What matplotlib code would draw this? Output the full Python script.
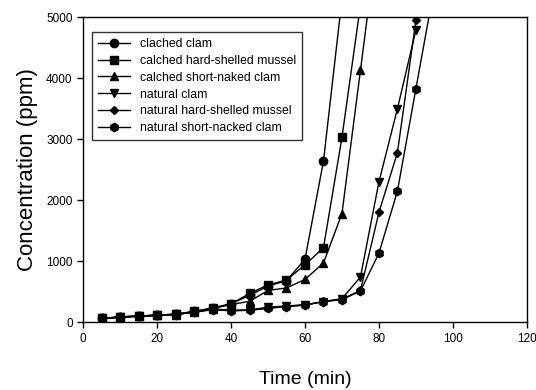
import matplotlib
matplotlib.use("Agg")
import matplotlib.pyplot as plt

plt.rcParams['font.family'] = ['Liberation Sans', 'DejaVu Sans']

# time (min) and concentration (ppm)
t_cal_clam = [5, 10, 15, 20, 25, 30, 35, 40, 45, 50, 55, 60, 65, 70]
cal_clam = [60, 85, 100, 115, 130, 175, 230, 300, 440, 590, 680, 1030, 2640, 5300]

t_cal_mussel = [5, 10, 15, 20, 25, 30, 35, 40, 45, 50, 55, 60, 65, 70, 75]
cal_mussel = [60, 85, 100, 115, 130, 175, 230, 300, 470, 610, 690, 940, 1220, 3030, 5200]

t_cal_short = [5, 10, 15, 20, 25, 30, 35, 40, 45, 50, 55, 60, 65, 70, 75, 80]
cal_short = [55, 80, 95, 110, 125, 165, 220, 290, 340, 520, 560, 700, 970, 1780, 4130, 6500]

t_nat_clam = [5, 10, 15, 20, 25, 30, 35, 40, 45, 50, 55, 60, 65, 70, 75, 80, 85, 90]
nat_clam = [60, 85, 100, 115, 130, 170, 215, 195, 200, 245, 265, 285, 335, 385, 740, 2300, 3500, 4790]

t_nat_mussel = [5, 10, 15, 20, 25, 30, 35, 40, 45, 50, 55, 60, 65, 70, 75, 80, 85, 90]
nat_mussel = [60, 85, 100, 110, 125, 165, 210, 190, 195, 230, 260, 280, 340, 375, 520, 1800, 2780, 4950]

t_nat_short = [5, 10, 15, 20, 25, 30, 35, 40, 45, 50, 55, 60, 65, 70, 75, 80, 85, 90, 95]
nat_short = [60, 80, 95, 110, 125, 160, 205, 185, 195, 225, 255, 280, 335, 370, 510, 1130, 2150, 3830, 5500]

series = [
    (t_cal_clam, cal_clam, 'o', 'clached clam'),
    (t_cal_mussel, cal_mussel, 's', 'calched hard-shelled mussel'),
    (t_cal_short, cal_short, '^', 'calched short-naked clam'),
    (t_nat_clam, nat_clam, 'v', 'natural clam'),
    (t_nat_mussel, nat_mussel, 'D', 'natural hard-shelled mussel'),
    (t_nat_short, nat_short, 'h', 'natural short-nacked clam'),
]

fig = plt.figure(figsize=(5.36, 3.90), dpi=100)
ax = fig.add_axes([0.155, 0.174, 0.828, 0.782])

for t, c, m, lab in series:
    ms = 4.5 if m == 'D' else 6
    ax.plot(t, c, color='black', lw=1, marker=m, ms=ms, label=lab)

ax.set_xlim(0, 120)
ax.set_ylim(0, 5000)
ax.set_xticks([0, 20, 40, 60, 80, 100, 120])
ax.set_yticks([0, 1000, 2000, 3000, 4000, 5000])
ax.tick_params(direction='out', length=4, width=1, labelsize=8.5)
for s in ax.spines.values():
    s.set_linewidth(1)

ax.set_xlabel('Time (min)', fontsize=14, labelpad=19)
ax.set_ylabel('Concentration (ppm)', fontsize=16, labelpad=6)

leg = ax.legend(loc='upper left', bbox_to_anchor=(0.006, 0.972), fontsize=8.8,
                frameon=True, fancybox=False, edgecolor='black',
                handlelength=2.6, labelspacing=0.4, borderpad=0.5,
                handletextpad=0.8)
leg.get_frame().set_linewidth(1)

fig.savefig('out.png', dpi=100)
